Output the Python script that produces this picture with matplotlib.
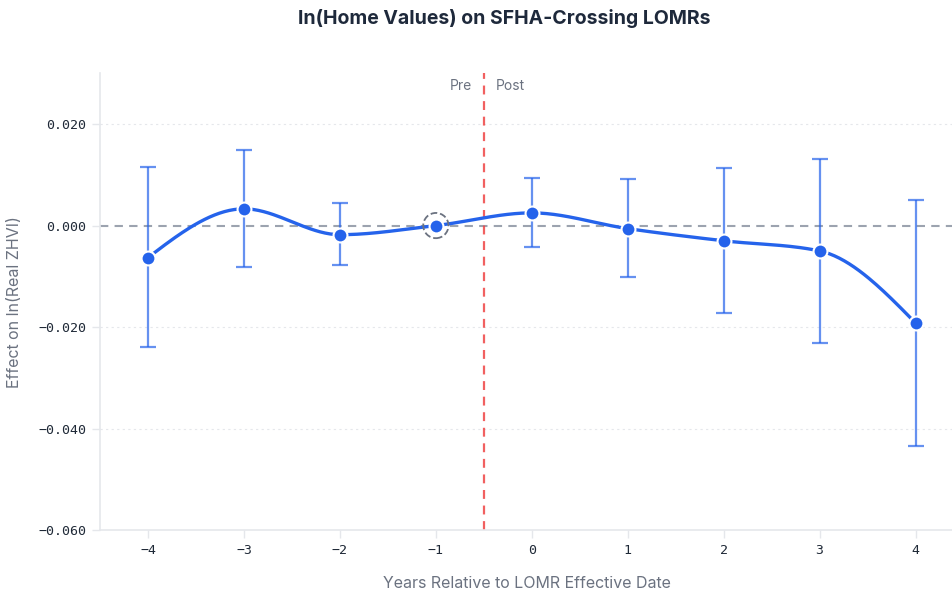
"""Event-study plot: ln(home values) around SFHA-crossing LOMRs."""
import matplotlib

matplotlib.use("Agg")
import matplotlib.pyplot as plt  # noqa: E402
import numpy as np  # noqa: E402

plt.rcParams["font.family"] = ["Inter", "DejaVu Sans"]

years = [-4, -3, -2, -1, 0, 1, 2, 3, 4]
coef = [-0.0063, 0.0033, -0.0018, 0.0, 0.0025, -0.0006, -0.0030, -0.0050, -0.0192]
ci_low = [-0.0240, -0.0081, -0.0078, 0.0, -0.0043, -0.0102, -0.0173, -0.0232, -0.0434]
ci_high = [0.0115, 0.0149, 0.0045, 0.0, 0.0093, 0.0091, 0.0113, 0.0131, 0.0050]
ref_year = -1

BLUE = "#2563eb"
GRAY_TXT = "#6b7280"


def monotone_curve(x, y, n=40):
    """Monotone cubic Hermite (same as d3.curveMonotoneX) through the points."""
    x = np.asarray(x, float)
    y = np.asarray(y, float)
    h = np.diff(x)
    s = np.diff(y) / h
    t = np.zeros_like(y)
    for i in range(1, len(x) - 1):
        s0, s1 = s[i - 1], s[i]
        p = (s0 * h[i] + s1 * h[i - 1]) / (h[i - 1] + h[i])
        t[i] = (np.sign(s0) + np.sign(s1)) * min(abs(s0), abs(s1), 0.5 * abs(p))
    t[0] = (3 * s[0] - t[1]) / 2
    t[-1] = (3 * s[-1] - t[-2]) / 2
    xs, ys = [], []
    for i in range(len(x) - 1):
        u = np.linspace(0, 1, n)
        h00 = 2 * u**3 - 3 * u**2 + 1
        h10 = u**3 - 2 * u**2 + u
        h01 = -2 * u**3 + 3 * u**2
        h11 = u**3 - u**2
        xs.append(x[i] + u * h[i])
        ys.append(h00 * y[i] + h10 * h[i] * t[i] + h01 * y[i + 1] + h11 * h[i] * t[i + 1])
    return np.concatenate(xs), np.concatenate(ys)


fig = plt.figure(figsize=(9.53, 5.91), dpi=100)
ax = fig.add_axes([0.105, 0.103, 0.895, 0.773])

ax.set_xlim(-4.5, 4.39)
ax.set_ylim(-0.060, 0.030)

# light grid + zero line
for yv in [0.02, -0.02, -0.04]:
    ax.axhline(yv, color="#e5e7eb", linewidth=0.8, linestyle=(0, (2, 3)), zorder=0)
ax.axhline(0, color="#9ca3af", linewidth=1.5, linestyle=(0, (4, 3)), zorder=1)
ax.axvline(-0.5, color="#ef4444", linewidth=1.6, linestyle=(0, (4, 3)), alpha=0.85, zorder=1)

ax.text(-0.62, 0.0275, "Pre", ha="right", va="center", fontsize=10, color=GRAY_TXT)
ax.text(-0.38, 0.0275, "Post", ha="left", va="center", fontsize=10, color=GRAY_TXT)

# confidence intervals (reference year has none)
est = [i for i, yr in enumerate(years) if yr != ref_year]
ex = np.array(years)[est]
ey = np.array(coef)[est]
lo = ey - np.array(ci_low)[est]
hi = np.array(ci_high)[est] - ey
ax.errorbar(ex, ey, yerr=[lo, hi], fmt="none", ecolor=BLUE, alpha=0.7,
            elinewidth=1.6, capsize=5.5, capthick=1.6, zorder=2)

cx, cy = monotone_curve(years, coef)
ax.plot(cx, cy, color=BLUE, linewidth=2.4, zorder=3, solid_capstyle="round")
ax.plot(years, coef, linestyle="none", marker="o", markersize=10,
        markerfacecolor=BLUE, markeredgecolor="white", markeredgewidth=1.5, zorder=4)

# dashed ring marks the omitted reference year
ax.scatter([ref_year], [coef[years.index(ref_year)]], s=330, facecolors="none",
           edgecolors="#6b7280", linewidths=1.3, linestyles="--", zorder=5)

ax.set_xticks(years)
ax.set_xticklabels([str(v).replace("-", "\u2212") for v in years])
ax.set_yticks([0.02, 0.0, -0.02, -0.04, -0.06])
ax.set_yticklabels([f"{v:.3f}".replace("-", "\u2212") for v in [0.02, 0.0, -0.02, -0.04, -0.06]])
for lab in ax.get_xticklabels() + ax.get_yticklabels():
    lab.set_fontfamily("DejaVu Sans Mono")
    lab.set_fontsize(9.5)
    lab.set_color("#1f2937")
ax.tick_params(axis="both", length=6, width=1, color="#e5e7eb", pad=4)

for side in ["top", "right"]:
    ax.spines[side].set_visible(False)
for side in ["left", "bottom"]:
    ax.spines[side].set_color("#e5e7eb")
    ax.spines[side].set_linewidth(1.2)

ax.set_xlabel("Years Relative to LOMR Effective Date", fontsize=11.5, color=GRAY_TXT, labelpad=14)
ax.set_ylabel("Effect on ln(Real ZHVI)", fontsize=11.5, color=GRAY_TXT, labelpad=12)
fig.text(0.529, 0.968, "ln(Home Values) on SFHA-Crossing LOMRs", ha="center", va="center",
         fontsize=14, fontweight="bold", color="#1e293b")

fig.savefig("out.png", dpi=100)
plt.close(fig)
